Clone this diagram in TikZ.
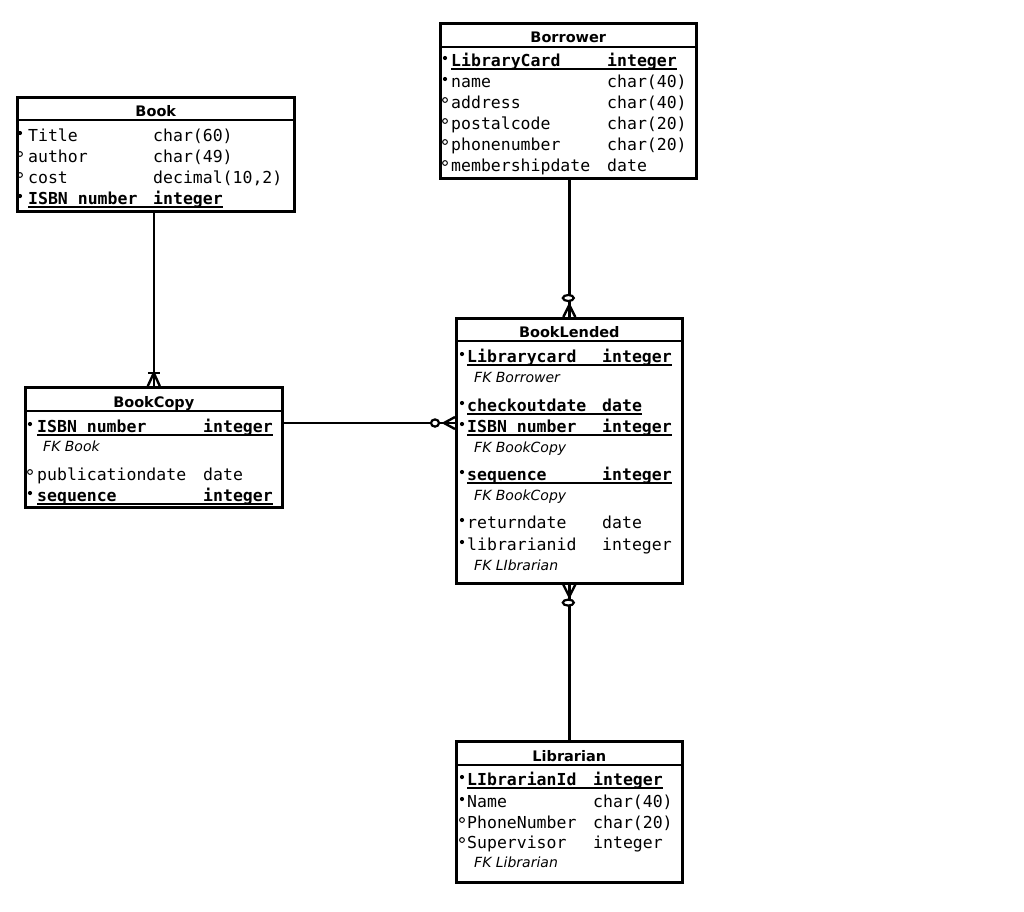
\documentclass[tikz,border=0pt]{standalone}
\usepackage{fontspec}
\usetikzlibrary{calc}
\newfontfamily\dmono{DejaVu Sans Mono}
\newfontfamily\dsans{DejaVu Sans}
\tikzset{
 tbl/.style={draw, line width=2.6pt, fill=white, anchor=north west, inner sep=0pt, rectangle},
 ttl/.style={font=\dsans\bfseries\fontsize{14.5}{16}\selectfont, anchor=base, inner sep=0pt},
 att/.style={font=\dmono\fontsize{16.5}{18}\selectfont, anchor=base west, inner sep=0pt},
 attb/.style={font=\dmono\bfseries\fontsize{16.5}{18}\selectfont, anchor=base west, inner sep=0pt},
 fk/.style={font=\dsans\itshape\fontsize{14}{16}\selectfont, anchor=base west, inner sep=0pt},
 sepline/.style={line width=2.6pt},
 ul/.style={line width=1.5pt},
 mand/.style={fill=black, radius=2.1pt},
 opt/.style={draw=black, line width=1pt, radius=2.4pt},
 conn/.style={line width=2.4pt},
 oval/.style={draw, fill=white, line width=2.2pt},
}
% id, textstyle, bulletstyle, bullet x, name x, type x, baseline, name, type
\newcommand\Arow[9]{%
 \node[#2] (#1n) at (#5,#7) {#8};
 \node[#2] (#1t) at (#6,#7) {#9};
 \path[#3] (#4,#7-8) circle;
}
% id, bullet x, name x, type x, baseline, name, type  (key row)
\newcommand\Krow[7]{%
 \node[attb] (#1n) at (#3,#5) {#6};
 \node[attb] (#1t) at (#4,#5) {#7};
 \path[mand] (#2,#5-8) circle;
 \draw[ul] ([yshift=-3pt]#1n.base west) -- ([yshift=-3pt]#1t.base east);
}
\begin{document}
\begin{tikzpicture}[x=1pt,y=-1pt]
\fill[white] (0,0) rectangle (1024,911);
\useasboundingbox (0,0) rectangle (1024,911);

\coordinate (yc) at (0,423);
% boxes
\node[tbl, minimum width=277pt, minimum height=114pt] (book) at (16,96) {};
\node[tbl, minimum width=256pt, minimum height=155pt] (borrower) at (439,22) {};
\node[tbl, minimum width=257pt, minimum height=120pt] (copy) at (24,386) {};
\node[tbl, minimum width=226pt, minimum height=265pt] (lended) at (455,317) {};
\node[tbl, minimum width=226pt, minimum height=141pt] (librarian) at (455,740) {};

% Book -> BookCopy (one or many)
\draw[conn] (book.south -| copy.north) -- (copy.north);
\draw[conn] ($(copy.north)+(0,-13)$) -- ($(copy.north)+(-6,0)$);
\draw[conn] ($(copy.north)+(0,-13)$) -- ($(copy.north)+(6,0)$);
\draw[conn] ($(copy.north)+(-6,-13)$) -- ($(copy.north)+(6,-13)$);

% Borrower -> BookLended (zero or many)
\draw[conn] (borrower.south -| lended.north) -- (lended.north);
\draw[conn] ($(lended.north)+(0,-12)$) -- ($(lended.north)+(-6,0)$);
\draw[conn] ($(lended.north)+(0,-12)$) -- ($(lended.north)+(6,0)$);
\draw[oval] ($(lended.north)+(-1,-19)$) ellipse[x radius=5.5pt, y radius=3pt];

% BookCopy -> BookLended (zero or many)
\draw[conn] (copy.east |- yc) -- (lended.west |- yc);
\draw[conn] ($(lended.west |- yc)+(-11,0)$) -- ($(lended.west |- yc)+(0,-6)$);
\draw[conn] ($(lended.west |- yc)+(-11,0)$) -- ($(lended.west |- yc)+(0,6)$);
\draw[oval] ($(lended.west |- yc)+(-20,0)$) ellipse[x radius=4pt, y radius=3.6pt];

% Librarian -> BookLended (zero or many)
\draw[conn] (librarian.north) -- (librarian.north |- lended.south);
\draw[conn] ($(lended.south)+(0,12)$) -- ($(lended.south)+(-6,0)$);
\draw[conn] ($(lended.south)+(0,12)$) -- ($(lended.south)+(6,0)$);
\draw[oval] ($(lended.south)+(-1,18)$) ellipse[x radius=5.5pt, y radius=3pt];

% ---------- Book ----------
\node[ttl] (bookT) at (book.north |- 0,116) {Book};
\draw[sepline] (book.west |- 0,120) -- (book.east |- 0,120);
\Arow{bk1}{att}{mand}{20}{28}{153}{141}{Title}{char(60)}
\Arow{bk2}{att}{opt}{20}{28}{153}{162}{author}{char(49)}
\Arow{bk3}{att}{opt}{20}{28}{153}{183}{cost}{decimal(10,2)}
\Krow{bk4}{20}{28}{153}{204}{ISBN number}{integer}

% ---------- Borrower ----------
\node[ttl] (borT) at (borrower.north |- 0,42) {Borrower};
\draw[sepline] (borrower.west |- 0,47) -- (borrower.east |- 0,47);
\Krow{br1}{445}{451}{607}{66}{LibraryCard}{integer}
\Arow{br2}{att}{mand}{445}{451}{607}{87}{name}{char(40)}
\Arow{br3}{att}{opt}{445}{451}{607}{108}{address}{char(40)}
\Arow{br4}{att}{opt}{445}{451}{607}{129}{postalcode}{char(20)}
\Arow{br5}{att}{opt}{445}{451}{607}{150}{phonenumber}{char(20)}
\Arow{br6}{att}{opt}{445}{451}{607}{171}{membershipdate}{date}

% ---------- BookCopy ----------
\node[ttl] (copyT) at (copy.north |- 0,407) {BookCopy};
\draw[sepline] (copy.west |- 0,411) -- (copy.east |- 0,411);
\Krow{bc1}{30}{37}{203}{432}{ISBN number}{integer}
\node[fk] (bcfk) at (43,451) {FK Book};
\Arow{bc2}{att}{opt}{30}{37}{203}{480}{publicationdate}{date}
\Krow{bc3}{30}{37}{203}{501}{sequence}{integer}

% ---------- BookLended ----------
\node[ttl] (lenT) at (lended.north |- 0,337) {BookLended};
\draw[sepline] (lended.west |- 0,341) -- (lended.east |- 0,341);
\Krow{bl1}{462}{467}{602}{362}{Librarycard}{integer}
\node[fk] (blfk1) at (474,382) {FK Borrower};
\Krow{bl2}{462}{467}{602}{411}{checkoutdate}{date}
\Krow{bl3}{462}{467}{602}{432}{ISBN number}{integer}
\node[fk] (blfk2) at (474,452) {FK BookCopy};
\Krow{bl4}{462}{467}{602}{480}{sequence}{integer}
\node[fk] (blfk3) at (474,500) {FK BookCopy};
\Arow{bl5}{att}{mand}{462}{467}{602}{528}{returndate}{date}
\Arow{bl6}{att}{mand}{462}{467}{602}{550}{librarianid}{integer}
\node[fk] (blfk4) at (474,570) {FK LIbrarian};

% ---------- Librarian ----------
\node[ttl] (libT) at (librarian.north |- 0,761) {Librarian};
\draw[sepline] (librarian.west |- 0,765) -- (librarian.east |- 0,765);
\Krow{lb1}{462}{467}{593}{785}{LIbrarianId}{integer}
\Arow{lb2}{att}{mand}{462}{467}{593}{807}{Name}{char(40)}
\Arow{lb3}{att}{opt}{462}{467}{593}{828}{PhoneNumber}{char(20)}
\Arow{lb4}{att}{opt}{462}{467}{593}{848}{Supervisor}{integer}
\node[fk] (lbfk) at (474,867) {FK Librarian};
\end{tikzpicture}
\end{document}
